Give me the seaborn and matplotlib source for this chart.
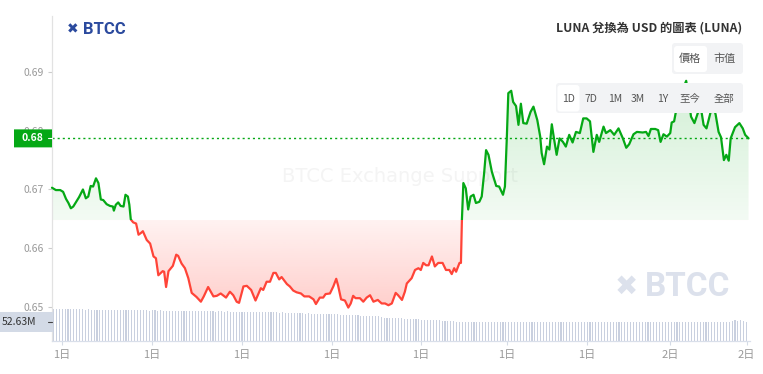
import numpy as np
import pandas as pd
import matplotlib
matplotlib.use("Agg")
import matplotlib.pyplot as plt
import seaborn as sns
from matplotlib.patches import Rectangle, FancyBboxPatch
from matplotlib.path import Path
from matplotlib.colors import to_rgb
from matplotlib.transforms import IdentityTransform

# ---------------- data ----------------
minutes = [0, 8, 17, 23, 29, 34, 39, 44, 50, 56,
           64, 70, 75, 80, 85, 91, 96, 101, 106, 113,
           120, 126, 128, 132, 137, 142, 148, 152, 157, 160,
           163, 168, 174, 179, 184, 188, 196, 203, 210, 215,
           220, 229, 232, 236, 241, 250, 257, 261, 268, 275,
           282, 289, 299, 308, 314, 323, 334, 341, 349, 360,
           368, 375, 382, 387, 396, 403, 412, 421, 432, 437,
           444, 451, 458, 463, 470, 475, 486, 492, 499, 506,
           515, 522, 532, 541, 546, 554, 561, 566, 575, 582,
           588, 592, 598, 606, 613, 618, 623, 628, 637, 644,
           651, 658, 665, 674, 682, 689, 696, 703, 711, 716,
           724, 730, 734, 744, 751, 758, 763, 768, 774, 779,
           786, 792, 799, 808, 815, 822, 827, 832, 836, 843,
           846, 848, 851, 856, 861, 866, 872, 877, 884, 889,
           894, 898, 903, 910, 919, 925, 933, 937, 941, 944,
           950, 954, 960, 965, 970, 975, 982, 990, 996, 1004,
           1010, 1013, 1018, 1024, 1029, 1034, 1039, 1044, 1050, 1057,
           1063, 1070, 1077, 1084, 1092, 1099, 1106, 1113, 1120, 1127,
           1132, 1141, 1146, 1155, 1163, 1172, 1181, 1188, 1194, 1203,
           1210, 1222, 1229, 1234, 1239, 1248, 1254, 1259, 1265, 1272,
           1279, 1282, 1287, 1292, 1301, 1312,
           1322, 1329, 1336, 1342, 1348, 1354, 1362, 1368, 1373, 1379,
           1384, 1390, 1395, 1400, 1404, 1413, 1422, 1429, 1434, 1441]

price = [0.6703, 0.6699, 0.6699, 0.6696, 0.6684, 0.6677, 0.6668, 0.6671, 0.6679, 0.6687,
         0.6700, 0.6685, 0.6688, 0.6706, 0.6705, 0.6719, 0.6711, 0.6683, 0.6682, 0.6675,
         0.6672, 0.6671, 0.6664, 0.6674, 0.6678, 0.6672, 0.6671, 0.6691, 0.6688, 0.6674,
         0.6649, 0.6644, 0.6642, 0.6623, 0.6626, 0.6629, 0.6614, 0.6608, 0.6586, 0.6583,
         0.6554, 0.6561, 0.6560, 0.6534, 0.6561, 0.6570, 0.6589, 0.6587, 0.6574, 0.6566,
         0.6549, 0.6524, 0.6517, 0.6509, 0.6518, 0.6534, 0.6518, 0.6519, 0.6523, 0.6516,
         0.6526, 0.6520, 0.6509, 0.6507, 0.6535, 0.6536, 0.6529, 0.6511, 0.6532, 0.6529,
         0.6543, 0.6543, 0.6558, 0.6558, 0.6547, 0.6551, 0.6539, 0.6535, 0.6528, 0.6525,
         0.6523, 0.6518, 0.6518, 0.6513, 0.6505, 0.6516, 0.6516, 0.6522, 0.6523, 0.6535,
         0.6548, 0.6536, 0.6513, 0.6511, 0.6499, 0.6506, 0.6519, 0.6515, 0.6515, 0.6509,
         0.6516, 0.6520, 0.6509, 0.6512, 0.6506, 0.6506, 0.6503, 0.6506, 0.6524, 0.6520,
         0.6512, 0.6526, 0.6540, 0.6549, 0.6563, 0.6566, 0.6563, 0.6575, 0.6571, 0.6571,
         0.6586, 0.6569, 0.6575, 0.6575, 0.6563, 0.6563, 0.6556, 0.6566, 0.6560, 0.6575,
         0.6575, 0.6648, 0.6711, 0.6702, 0.6666, 0.6688, 0.6691, 0.6677, 0.6679, 0.6688,
         0.6728, 0.6767, 0.6759, 0.6730, 0.6706, 0.6705, 0.6691, 0.6705, 0.6790, 0.6864,
         0.6868, 0.6849, 0.6842, 0.6810, 0.6846, 0.6813, 0.6812, 0.6832, 0.6841, 0.6818,
         0.6790, 0.6762, 0.6743, 0.6773, 0.6768, 0.6811, 0.6784, 0.6759, 0.6787, 0.6781,
         0.6773, 0.6793, 0.6780, 0.6798, 0.6796, 0.6821, 0.6821, 0.6816, 0.6764, 0.6793,
         0.6781, 0.6807, 0.6796, 0.6801, 0.6793, 0.6804, 0.6787, 0.6771, 0.6777, 0.6794,
         0.6798, 0.6797, 0.6798, 0.6791, 0.6803, 0.6803, 0.6801, 0.6781, 0.6794, 0.6790,
         0.6796, 0.6814, 0.6816, 0.6838, 0.6862, 0.6885,
         0.6824, 0.6813, 0.6830, 0.6841, 0.6810, 0.6804, 0.6830, 0.6844, 0.6827, 0.6798,
         0.6789, 0.6750, 0.6759, 0.6749, 0.6787, 0.6806, 0.6813, 0.6804, 0.6793, 0.6787]

volume_m = [89, 88, 89, 89, 88, 89, 88, 88, 89, 88, 88, 87, 88, 87, 87,
            86, 86, 87, 86, 86, 85, 86, 86, 85, 86, 86, 85, 85, 86, 85, 85, 86, 85, 84, 85, 85, 84, 85, 84, 84, 84,
            83, 84, 83, 83, 83, 82, 83, 83, 82, 83, 82, 82, 83, 82, 82, 81, 82, 82, 81, 82, 81, 81, 81, 80, 81, 81, 80, 80, 81, 80, 80,
            80, 79, 80, 79, 79, 79, 78, 79, 78, 78, 78, 77, 78, 77,
            77, 76, 77, 76, 76, 75, 76, 75, 75, 74, 75, 74, 74, 73,
            73, 72, 72, 72, 71, 71, 70, 70, 70, 69, 69, 68, 68,
            66, 65, 65, 64, 64, 64, 63, 63, 62, 62, 62, 61, 61, 60,
            59, 59, 58, 58, 58, 57, 57, 56, 56, 56, 55, 55, 54,
            54, 53, 53, 54, 53, 53, 52, 53, 53, 54,
            53, 53, 52, 53, 53, 53, 54, 53, 52, 53,
            53, 53, 53, 52, 53, 54, 53, 53, 53, 52,
            53, 53, 54, 53, 53, 52, 53, 53, 53, 53,
            52, 53, 53, 54, 53, 53, 53, 52, 53, 53,
            53, 54, 53, 53, 52, 53, 53, 53, 54, 53,
            53, 52, 53, 53, 53, 53, 54, 53, 52, 53,
            53, 53, 52, 53, 54, 53, 53, 53, 53, 52,
            53, 53, 54, 53, 53, 52, 53, 53, 53, 54,
            53, 53, 52, 53,
            56, 57, 56, 57, 56,
            52.63]
volume_step_min = 6

x_tick_minutes = [21, 207, 393, 579, 763, 941, 1106, 1278, 1437]
x_tick_labels = ['1日', '1日', '1日', '1日', '1日', '1日', '1日', '2日', '2日']
y_ticks = [0.65, 0.66, 0.67, 0.68, 0.69]
y_tick_labels = ['0.65', '0.66', '0.67', '0.68', '0.69']
baseline_price = 0.6648
current_price_label = '0.68'
volume_label = '52.63M'
title_text = 'LUNA 兌換為 USD 的圖表 (LUNA)'
metric_buttons = ['價格', '市值']
range_buttons = ['1D', '7D', '1M', '3M', '1Y', '至今', '全部']

assert len(minutes) == len(price)

# ---------------- style ----------------
sns.set_theme(style='white')
plt.rcParams['font.family'] = ['Noto Sans CJK TC', 'DejaVu Sans']

GREEN = '#05a815'
RED = '#ff4438'
W, H = 763, 374
fig = plt.figure(figsize=(W / 100, H / 100), dpi=100)
fig.patch.set_facecolor('white')

L, R, T, B = 52, 750, 16, 341
ax = fig.add_axes([L / W, 1 - B / H, (R - L) / W, (B - T) / H])
axv = ax.twinx()
ax.set_zorder(axv.get_zorder() + 1)
ax.patch.set_visible(False)

# volume bars
vol_df = pd.DataFrame({'t': np.arange(len(volume_m)) * volume_step_min + volume_step_min / 2,
                       'v': volume_m})
sns.barplot(data=vol_df, x='t', y='v', native_scale=True, width=0.38, color='#c9d0df',
            saturation=1, errorbar=None, linewidth=0, ax=axv)
for p in axv.patches:
    p.set_antialiased(False)
axv.set_ylim(0, 900)
axv.set_yticks([])
axv.set_ylabel('')
axv.set_xlabel('')
for s in axv.spines.values():
    s.set_visible(False)

XMAX = 1444
YMIN, YMAX = 0.64421, 0.69953

df = pd.DataFrame({'t': minutes, 'p': price})

# gradient fills clipped to area between line and baseline
poly = ax.fill_between(df.t, df.p, baseline_price, color='none', lw=0)
clip = Path.make_compound_path(*poly.get_paths())


def vgrad(color, a_bottom, a_top, n=200):
    img = np.zeros((n, 1, 4))
    img[..., :3] = to_rgb(color)
    img[:, 0, 3] = np.linspace(a_bottom, a_top, n)
    return img


im_g = ax.imshow(vgrad(GREEN, 0.05, 0.18), extent=[0, XMAX, baseline_price, max(price)],
                 origin='lower', aspect='auto', zorder=1, interpolation='bilinear')
im_g.set_clip_path(clip, ax.transData)
im_r = ax.imshow(vgrad(RED, 0.26, 0.07), extent=[0, XMAX, min(price), baseline_price],
                 origin='lower', aspect='auto', zorder=1, interpolation='bilinear')
im_r.set_clip_path(clip, ax.transData)

# lines, coloured by side of baseline
for col, y0 in [(GREEN, baseline_price), (RED, baseline_price - 1)]:
    n0 = len(ax.lines)
    sns.lineplot(data=df, x='t', y='p', color=col, lw=1.6, ax=ax,
                 estimator=None, sort=False, zorder=3)
    line = ax.lines[n0]
    rect = Rectangle((-1e4, y0), 3e4, 1, transform=ax.transData)
    line.set_clip_path(rect)

ax.axhline(price[-1], color=GREEN, lw=1.0, ls=(0, (1.5, 2.2)), zorder=2)

ax.set_xlim(0, XMAX)
ax.set_ylim(YMIN, YMAX)
ax.set_xlabel('')
ax.set_ylabel('')
ax.set_xticks(x_tick_minutes, x_tick_labels)
ax.set_yticks(y_ticks, y_tick_labels)
ax.tick_params(axis='x', length=3, width=0.8, color='#d5dbe6', labelcolor='#999999',
               labelsize=8, pad=3.5, bottom=True)
ax.tick_params(axis='y', length=3, width=0.8, color='#cccccc', labelcolor='#999999',
               labelsize=7.5, pad=3.2, left=True)
for k in ['top', 'right']:
    ax.spines[k].set_visible(False)
ax.spines['left'].set_color('#e2e2e2')
ax.spines['left'].set_linewidth(0.9)
ax.spines['bottom'].set_color('#d9dfea')
ax.spines['bottom'].set_linewidth(0.9)
axv.set_xlim(0, XMAX)


# ---------------- overlay helpers ----------------
def box(x0, y0, x1, y1, fc, r=0.0, z=10):
    p = FancyBboxPatch((x0, H - y1), x1 - x0, y1 - y0,
                       boxstyle=f"round,pad=0,rounding_size={r}",
                       fc=fc, ec='none', transform=IdentityTransform(), zorder=z)
    fig.add_artist(p)


def ftext(x, y, s, **kw):
    kw.setdefault('zorder', 11)
    return fig.text(x / W, 1 - y / H, s, **kw)


# current price tag
y_cur = H - ax.transData.transform((0, price[-1]))[1]
box(14, y_cur - 9, 52, y_cur + 9, GREEN, z=10)
ftext(43.5, y_cur, current_price_label, color='white', fontsize=7.5, fontweight='bold',
      ha='right', va='center')
fig.add_artist(plt.Line2D([48 / W, 52 / W], [1 - y_cur / H] * 2, color='white', lw=0.8, zorder=11))

# volume tag
y_vol = H - axv.transData.transform((0, volume_m[-1]))[1]
box(0, y_vol - 10, 53, y_vol + 10, '#d3dae6', z=10)
ftext(36, y_vol, volume_label, color='#333333', fontsize=7.5, ha='right', va='center')
fig.add_artist(plt.Line2D([48 / W, 52 / W], [1 - y_vol / H] * 2, color='#444444', lw=0.8, zorder=11))

# watermarks
ftext(400, 177, 'BTCC Exchange Support', color='#f4f4f4', fontsize=14, ha='center',
      va='center', family=['DejaVu Sans'], zorder=0.5)
ftext(626, 287, '✖', color='#dce1ec', fontsize=20, ha='center', va='center',
      family=['DejaVu Sans'], zorder=0.5)
ftext(645, 287, 'BTCC', color='#dce1ec', fontsize=24, fontweight='bold', ha='left',
      va='center', family=['Roboto', 'DejaVu Sans'], zorder=0.5)

# top-left logo
ftext(72.5, 29, '✖', color='#2b4a9e', fontsize=10, ha='center', va='center',
      family=['DejaVu Sans'])
ftext(83, 29, 'BTCC', color='#2b4a9e', fontsize=12, fontweight='bold', ha='left',
      va='center', family=['Roboto', 'DejaVu Sans'])

# title
ftext(742, 28, title_text, color='#333333', fontsize=8.8, fontweight='bold',
      ha='right', va='center')

# button groups
box(672, 43, 743, 74, '#f2f3f5', r=3)
box(674, 46, 707, 72, 'white', r=3, z=10.5)
for lbl, xc in zip(metric_buttons, [690, 725]):
    ftext(xc, 59, lbl, color='#555555', fontsize=8, ha='center', va='center')

box(556, 83, 743, 113, '#f2f3f5', r=3)
box(557.5, 85, 579.5, 111.5, 'white', r=3, z=10.5)
for lbl, xc in zip(range_buttons, [568.5, 591, 615, 637.5, 662.5, 689.5, 724]):
    ftext(xc, 99, lbl, color='#555555', fontsize=7.5, ha='center', va='center')

fig.savefig('out.png', dpi=100, facecolor='white')
